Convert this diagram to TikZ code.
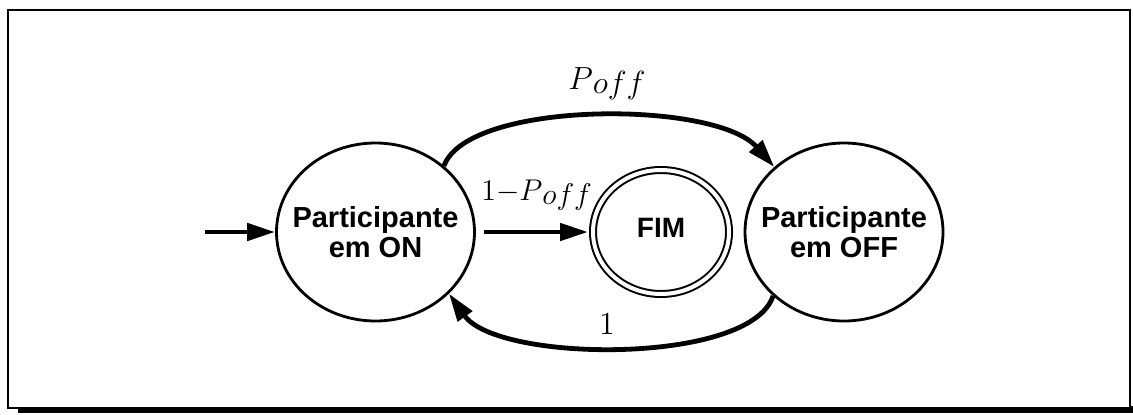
\RequirePackage{fix-cm}
\documentclass[tikz,border=0pt]{standalone}
\usepackage{fontspec}
\setsansfont{Liberation Sans}
\usetikzlibrary{arrows.meta,shapes.geometric}
\begin{document}
\begin{tikzpicture}[x=0.5pt,y=0.5pt,
  state/.style={ellipse, draw, line width=1.4pt, minimum width=99pt, minimum height=89pt, inner sep=0pt},
  stxt/.style={font=\sffamily\bfseries\fontsize{14.5}{15}\selectfont, align=center, inner sep=0pt},
  arr/.style={line width=2.4pt, -{Triangle[length=14pt,width=8.5pt]}},
  lab/.style={inner sep=0pt, font=\fontsize{16}{18}\selectfont}]
\useasboundingbox (0,0) rectangle (1133,414);
\fill (18,1) rectangle (1133,8);
\draw[line width=1.2pt, fill=white] (8,6) rectangle (1130,404);

\node[state, label={[stxt]center:Participante\\em ON}] (on) at (375.5,182) {};
\node[state, label={[stxt]center:Participante\\em OFF}] (off) at (844,182) {};
\node[ellipse, draw, double, line width=1pt, double distance=2pt,
      minimum width=68pt, minimum height=62pt, inner sep=0pt,
      label={[stxt, font=\sffamily\bfseries\fontsize{14}{15}\selectfont, yshift=2pt]center:FIM}] (fim) at (661,182) {};

\coordinate (init) at (205,182);
\draw[arr] (init) -- (on);
\draw[arr, shorten <=4pt, shorten >=2pt] (on) -- (fim);
\node[lab, font=\fontsize{15}{18}\selectfont, anchor=base west] (l1) at (481,214) {$1{-}P\raisebox{-2pt}{$off$}$};

\draw[arr] (on.44) .. controls (468,314) and (715,314) .. (off.137);
\node[lab, anchor=base] (l0) at (607,325) {$P\raisebox{-2pt}{$off$}$};

\draw[arr] (off.222) .. controls (751,49) and (498,51) .. (on.320);
\node[lab, anchor=base] (l2) at (607,80) {$1$};
\end{tikzpicture}
\end{document}
